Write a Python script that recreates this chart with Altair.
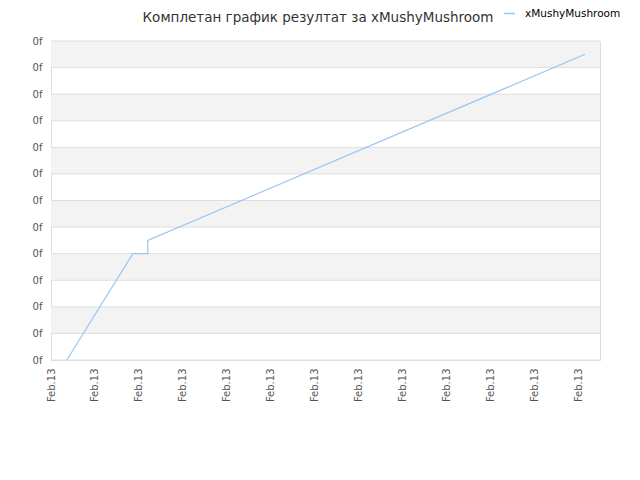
import altair as alt
import pandas as pd

# data (x in tick units, y in gridline units)
xs = [0.36, 1.86, 2.2, 2.2, 12.14]
ys = [0.0, 4.0, 4.0, 4.5, 11.5]
series = ["xMushyMushroom"] * 5
band_lo = [1, 3, 5, 7, 9, 11]
band_hi = [2, 4, 6, 8, 10, 12]
x_ticks = list(range(0, 13))
y_ticks = list(range(0, 13))
title_text = ["Комплетан график резултат за xMushyMushroom"]

line_df = pd.DataFrame({"x": xs, "y": ys, "s": series})
band_df = pd.DataFrame({"y1": band_lo, "y2": band_hi})
grid_df = pd.DataFrame({"y": y_ticks})
title_df = pd.DataFrame({"t": title_text})

xscale = alt.Scale(domain=[0, 12.48], nice=False, zero=False)
yscale = alt.Scale(domain=[0, 12], nice=False)
yaxis = alt.Axis(values=y_ticks, labelExpr="'0f'", title=None, labelOverlap=False,
                 grid=False, domain=False, ticks=False,
                 labelColor="#555555", labelFont="DejaVu Sans", labelFontSize=10,
                 labelPadding=9)

bands = alt.Chart(band_df).mark_rect(color="#f3f3f3").encode(
    y=alt.Y("y1:Q", scale=yscale, axis=yaxis),
    y2="y2:Q",
    x=alt.value(0),
    x2=alt.value(549),
)

grid = alt.Chart(grid_df).mark_rule(color="#dedede", strokeWidth=1).encode(
    y=alt.Y("y:Q", scale=yscale, axis=yaxis),
    x=alt.value(0),
    x2=alt.value(549),
)

line = alt.Chart(line_df).mark_line(strokeWidth=1.2).encode(
    x=alt.X("x:Q", scale=xscale,
            axis=alt.Axis(values=x_ticks, labelExpr="'Feb.13'", title=None, labelOverlap=False,
                          grid=False, domain=False, ticks=False, labelAngle=-90,
                          labelColor="#555555", labelFont="DejaVu Sans", labelFontSize=10,
                          labelPadding=8)),
    y=alt.Y("y:Q", scale=yscale, axis=yaxis),
    color=alt.Color("s:N", scale=alt.Scale(range=["#99c6f2"]),
                    legend=alt.Legend(title=None, orient="none", legendX=452, legendY=-34,
                                      symbolType="stroke", symbolSize=120, symbolStrokeWidth=1.5,
                                      labelOffset=9,
                                      labelFont="DejaVu Sans", labelFontSize=10.5,
                                      labelColor="#000000")),
)

title = alt.Chart(title_df).mark_text(
    font="DejaVu Sans", fontSize=13.5, color="#333333", align="center", baseline="middle"
).encode(text="t:N", x=alt.value(267), y=alt.value(-23))

chart = alt.layer(bands, grid, line, title).properties(
    width=549,
    height=319,
    autosize=alt.AutoSizeParams(type="none"),
    padding={"left": 43, "top": 33, "right": 30, "bottom": 100},
).configure_view(stroke="#dddddd").configure_axisY(labelOverlap=False).configure(background="white")

chart.save("out.html", embed_options={"renderer": "svg", "actions": False})
